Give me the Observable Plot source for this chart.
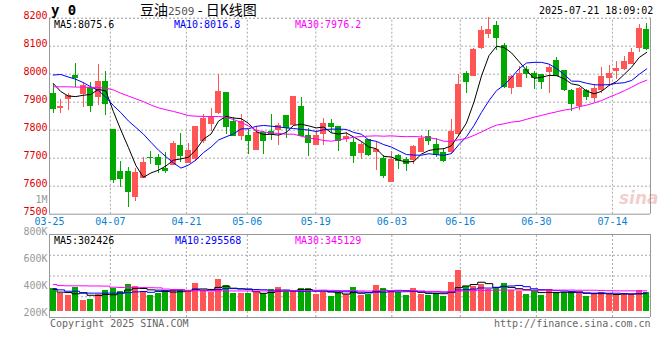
<!DOCTYPE html>
<html>
<head>
<meta charset="utf-8">
<script src="https://cdn.jsdelivr.net/npm/d3@7"></script>
<script src="https://cdn.jsdelivr.net/npm/@observablehq/plot@0.6"></script>
<style>
  html, body { margin: 0; padding: 0; background: #fff; }
  #wrap { position: relative; width: 660px; height: 360px; overflow: hidden; background: #fff; }
  #wrap svg { position: absolute; left: 0; top: 0; }
  .t { position: absolute; font-family: "DejaVu Sans Mono", monospace; font-size: 10px; line-height: 10px; white-space: nowrap; }
</style>
</head>
<body>
<div id="wrap"></div>
<script>
// ---- data ----
const openP  = [7930,7879,7911,7994,7930,7950,7920,7972,7801,7651,7651,7561,7629,7702,7701,7663,7677,7745,7682,7698,
                7760,7823,7860,7933,7829,7781,7780,7728,7790,7793,7801,7851,7817,7883,7781,7748,7787,7823,7812,7769,
                7756,7717,7766,7722,7698,7614,7709,7695,7692,7721,7774,7748,7718,7722,7786,7999,7995,8092,8144,8172,
                8100,7949,7954,8015,7999,7997,8007,8047,8011,7940,7888,7940,7914,7944,7988,8011,8019,8035,8094,8157];
const highP  = [7965,7908,7930,8039,7970,7970,8036,8011,7801,7689,7667,7665,7701,7724,7712,7722,7760,7790,7754,7812,
                7855,7879,7999,7933,7845,7855,7801,7813,7796,7855,7823,7851,7922,7917,7807,7798,7843,7839,7812,7793,
                7772,7756,7766,7760,7709,7724,7715,7701,7745,7781,7798,7769,7734,7839,7999,8011,8092,8172,8201,8189,
                8110,7997,8029,8027,8009,7999,8033,8060,8011,7944,7952,7947,7962,8023,8030,8045,8065,8092,8177,8181];
const lowP   = [7858,7858,7870,7953,7882,7863,7890,7852,7609,7594,7523,7546,7627,7679,7646,7644,7674,7683,7680,7689,
                7754,7796,7855,7786,7781,7762,7715,7728,7715,7762,7746,7769,7813,7778,7707,7746,7746,7790,7724,7756,
                7682,7695,7707,7657,7626,7614,7659,7653,7677,7721,7746,7701,7683,7713,7781,7930,7991,8090,8128,8086,
                7950,7926,7954,7985,7944,7947,7930,7991,7940,7867,7870,7906,7900,7930,7956,7982,8015,8033,8078,8086];
const closeP = [7874,7882,7922,7988,7958,7888,7972,7895,7621,7627,7578,7648,7684,7699,7677,7653,7752,7707,7727,7812,
                7841,7845,7937,7813,7781,7831,7760,7790,7760,7786,7816,7807,7917,7781,7756,7780,7823,7813,7760,7775,
                7707,7746,7712,7730,7638,7695,7689,7680,7740,7769,7760,7712,7689,7792,7962,7973,8086,8154,8157,8128,
                7953,7989,7999,7999,7985,7973,8023,7994,7944,7894,7947,7919,7946,7990,7999,8017,8045,8077,8161,8090];
const volume = [368,331,319,380,281,289,324,356,368,348,400,385,350,319,336,353,361,363,348,407,
                356,343,437,393,333,333,333,343,331,363,378,348,348,370,370,326,343,311,343,324,
                378,319,326,393,370,356,338,319,370,326,319,331,313,415,504,383,383,398,363,368,
                407,356,350,326,348,319,363,343,343,331,343,313,331,343,324,319,333,324,356,343].map(v => v * 1000);

// moving-average values before a full window exists
const ma5Lead  = [7967,7938,7922,7920];
const ma10Lead = [7997,7999,7990,7982,7970,7955,7942,7918,7888];
const ma30Lead = [7955,7955,7955,7954,7954,7953,7952,7950,7944,7932,7922,7912,7902,7890,7880,7873,7867,7860,7852,7850,
                  7849,7849,7849,7846,7838,7828,7815,7800,7794];
const vma5Lead  = [363,343,340,331].map(v => v * 1000);
const vma10Lead = [368,360,350,350,340,336,336,336,336].map(v => v * 1000);
const vma30Lead = [400,392,390,390,390,389,389,388,380,378,378,377,377,376,375,366,363,362,356,354,
                   353,353,353,353,352,352,352,352,352].map(v => v * 1000);

// axis ticks
const dateTickIdx    = [0,8,18,26,35,45,54,64,74];
const dateTickLabels = ["03-25","04-07","04-21","05-06","05-19","06-03","06-16","06-30","07-14"];
const priceTicks = [7500,7600,7700,7800,7900,8000,8100,8200];
const volTicks = [200000,400000,600000,800000,1000000];
const volTickLabels = ["200K","400K","600K","800K","1M"];

// header texts
const titleMain = "豆油";
const titleCode = "2509";
const titleTail = " - 日K线图";
const stamp = "2025-07-21 18:09:02";
const maLabels  = ["MA5:8075.6","MA10:8016.8","MA30:7976.2"];
const vmaLabels = ["MA5:302426","MA10:295568","MA30:345129"];

// ---- styling ----
const RED = "#ff5555", GREEN = "#00a800";
const MA_COL = ["#000000","#0000ff","#ff00ff"];
const GRID = "#a8a8a8", BORDER = "#999999";

const N = closeP.length;
const candles = d3.range(N).map(i => ({
  i, open: openP[i], high: highP[i], low: lowP[i], close: closeP[i], vol: volume[i],
  col: closeP[i] >= openP[i] ? RED : GREEN
}));

function movingAvg(vals, k, lead) {
  return vals.map((v, i) => ({i, v: i < k - 1 ? lead[i] : d3.mean(vals.slice(i - k + 1, i + 1))}));
}
const ma = [movingAvg(closeP,5,ma5Lead), movingAvg(closeP,10,ma10Lead), movingAvg(closeP,30,ma30Lead)];
const vma = [movingAvg(volume,5,vma5Lead), movingAvg(volume,10,vma10Lead), movingAvg(volume,30,vma30Lead)];

// Sina places its date grid at i/(N-1) of the panel width, candles in N slots
const gridX = i => -0.5 + i * N / (N - 1);
const X = {domain: [-0.5, N - 0.5], range: [49, 650]};
const HALF = 0.4;

const mainPlot = Plot.plot({
  width: 660, height: 360, margin: 0,
  style: {background: "transparent", fontFamily: "DejaVu Sans Mono", fontSize: "10px", overflow: "visible"},
  x: {...X, axis: null},
  y: {domain: [7500, 8200], range: [213.7, 17.7], axis: null},
  marks: [
    Plot.ruleY(priceTicks.slice(1, -1), {y: d => d, x1: -0.5, x2: N - 0.5, stroke: GRID, strokeDasharray: "2,2"}),
    Plot.ruleX(dateTickIdx.slice(1), {x: gridX, y1: 7500, y2: 8200, stroke: GRID, strokeDasharray: "2,2"}),
    Plot.ruleY([8200], {x1: -0.5, x2: N - 0.5, stroke: BORDER, strokeDasharray: "2,2"}),
    Plot.ruleY([7500], {x1: -0.5, x2: N - 0.5, stroke: BORDER}),
    Plot.ruleX([-0.5, N - 0.5], {y1: 7500, y2: 8200, stroke: BORDER}),
    Plot.ruleX(candles, {x: "i", y1: "low", y2: "high", stroke: "col", shapeRendering: "crispEdges"}),
    Plot.rect(candles, {x1: d => d.i - HALF, x2: d => d.i + HALF, y1: "open", y2: "close", fill: "col",
                        insetTop: -0.5, insetBottom: -0.5, shapeRendering: "crispEdges"}),
    ...ma.map((s, k) => Plot.line(s, {x: "i", y: "v", stroke: MA_COL[k], strokeWidth: 1})),
    Plot.text(priceTicks, {y: d => d, frameAnchor: "left", dx: 47, dy: -2, textAnchor: "end", fill: "#dd0000", text: d => String(d)}),
    Plot.text(dateTickIdx, {x: gridX, y: 7500, dy: 7.5, fill: "#0a7fd0", text: (d, j) => dateTickLabels[j]})
  ]
});

const vDom = [155600, 770000];
const vGrid = [1, 2, 3].map(k => vDom[0] + k * (vDom[1] - vDom[0]) / 4);
const volPlot = Plot.plot({
  width: 660, height: 360, margin: 0,
  style: {background: "transparent", fontFamily: "DejaVu Sans Mono", fontSize: "10px", overflow: "visible"},
  x: {...X, axis: null},
  y: {domain: vDom, range: [317, 234], axis: null},
  marks: [
    Plot.ruleY(vGrid, {x1: -0.5, x2: N - 0.5, stroke: GRID, strokeDasharray: "2,2"}),
    Plot.ruleX(dateTickIdx.slice(1), {x: gridX, y1: vDom[0], y2: vDom[1], stroke: GRID, strokeDasharray: "2,2"}),
    Plot.rect(candles, {x1: d => d.i - HALF, x2: d => d.i + HALF, y1: 200000, y2: "vol", fill: "col", shapeRendering: "crispEdges"}),
    ...vma.map((s, k) => Plot.line(s, {x: "i", y: "v", stroke: MA_COL[k], strokeWidth: 1, curve: "step"})),
    Plot.ruleY(vDom, {x1: -0.5, x2: N - 0.5, stroke: BORDER}),
    Plot.ruleX([-0.5, N - 0.5], {y1: vDom[0], y2: vDom[1], stroke: BORDER}),
    Plot.text(volTicks.slice(0, -1), {y: d => d, frameAnchor: "left", dx: 47, dy: 1, textAnchor: "end", fill: "#999999", text: (d, j) => volTickLabels[j]}),
    Plot.text(volTicks.slice(-1), {y: d => d, frameAnchor: "left", dx: 47, dy: -4, textAnchor: "end", fill: "#999999", text: () => volTickLabels[volTickLabels.length - 1]})
  ]
});

const wrap = document.getElementById("wrap");
wrap.appendChild(mainPlot);
wrap.appendChild(volPlot);

function addText(txt, x, y, css) {
  const s = document.createElement("span");
  s.className = "t";
  s.textContent = txt;
  s.style.left = x + "px";
  s.style.top = y + "px";
  Object.assign(s.style, css || {});
  wrap.appendChild(s);
  return s;
}
addText("y 0", 51, 4, {fontSize: "14px", lineHeight: "13px", fontWeight: "bold", color: "#000"});
const title = addText("", 140, 2, {fontFamily: "'Noto Sans CJK SC', sans-serif", fontSize: "14px", lineHeight: "14px", color: "#000"});
title.innerHTML = titleMain + '<span style="font-family:\'DejaVu Sans Mono\';font-size:11px;color:#555">' + titleCode + '</span>' + titleTail;
addText(stamp, 539, 6, {color: "#000"});
[54, 174, 295].forEach((x, k) => addText(maLabels[k], x, 20, {color: MA_COL[k], lineHeight: "9px"}));
[54, 175, 295].forEach((x, k) => addText(vmaLabels[k], x, 236, {color: MA_COL[k], lineHeight: "9px"}));
addText("Copyright 2025 SINA.COM", 50, 319, {color: "#666"});
addText("http://finance.sina.com.cn", 494, 319, {color: "#666"});
addText("sina", 619, 189, {fontFamily: "'DejaVu Sans', sans-serif", fontSize: "17px", lineHeight: "18px", fontStyle: "italic", fontWeight: "bold", color: "rgba(220,110,110,0.35)"});
</script>
</body>
</html>
